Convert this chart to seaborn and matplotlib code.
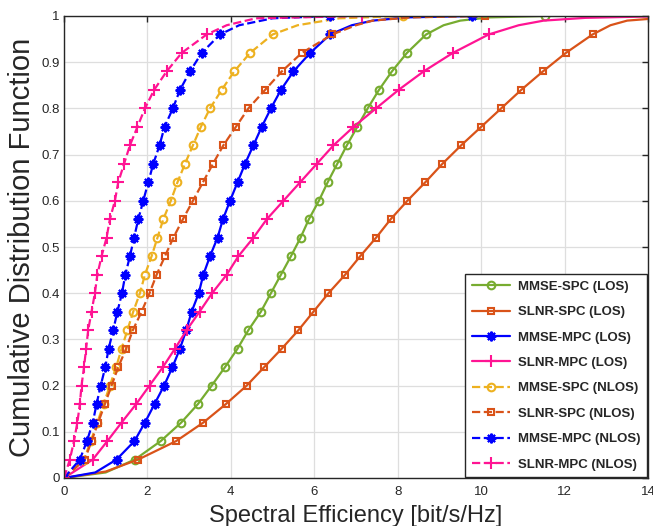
import matplotlib
matplotlib.use("Agg")
import matplotlib.pyplot as plt
import seaborn as sns

# CDF levels at which markers are drawn
cdf_levels = [0, 0.04, 0.08, 0.12, 0.16, 0.20, 0.24, 0.28, 0.32, 0.36, 0.40, 0.44, 0.48,
              0.52, 0.56, 0.60, 0.64, 0.68, 0.72, 0.76, 0.80, 0.84, 0.88, 0.92, 0.96, 1.0]

# spectral efficiency read at each CDF level
mmse_spc_los = [0, 1.70, 2.32, 2.81, 3.21, 3.54, 3.86, 4.16, 4.42, 4.72, 4.96, 5.20, 5.44,
                5.67, 5.87, 6.11, 6.32, 6.55, 6.78, 7.03, 7.28, 7.55, 7.86, 8.22, 8.68, 11.52]
slnr_spc_los = [0, 1.78, 2.69, 3.34, 3.88, 4.38, 4.80, 5.22, 5.62, 5.98, 6.34, 6.74, 7.10,
                7.48, 7.83, 8.23, 8.66, 9.07, 9.52, 10.00, 10.48, 10.96, 11.48, 12.03, 12.67, 15.0]
mmse_mpc_los = [0, 1.26, 1.69, 1.94, 2.17, 2.40, 2.60, 2.78, 2.93, 3.06, 3.23, 3.34, 3.50,
                3.68, 3.81, 3.98, 4.16, 4.34, 4.54, 4.74, 4.96, 5.20, 5.50, 5.90, 6.38, 9.78]
slnr_mpc_los = [0, 0.69, 1.04, 1.38, 1.73, 2.05, 2.37, 2.66, 2.94, 3.25, 3.55, 3.90, 4.18,
                4.54, 4.86, 5.26, 5.66, 6.06, 6.46, 6.94, 7.48, 8.02, 8.62, 9.32, 10.18, 14.5]
mmse_spc_nlos = [0, 0.48, 0.64, 0.80, 0.95, 1.10, 1.25, 1.38, 1.52, 1.66, 1.82, 1.94, 2.10,
                 2.24, 2.38, 2.56, 2.72, 2.90, 3.09, 3.28, 3.50, 3.78, 4.08, 4.46, 5.00, 8.12]
slnr_spc_nlos = [0, 0.50, 0.66, 0.82, 0.98, 1.14, 1.30, 1.49, 1.65, 1.86, 2.05, 2.22, 2.42,
                 2.62, 2.85, 3.09, 3.33, 3.57, 3.82, 4.12, 4.42, 4.82, 5.22, 5.70, 6.43, 10.1]
mmse_mpc_nlos = [0, 0.38, 0.55, 0.69, 0.78, 0.88, 0.99, 1.07, 1.18, 1.28, 1.39, 1.47, 1.58,
                 1.68, 1.78, 1.90, 2.02, 2.14, 2.29, 2.41, 2.61, 2.78, 3.02, 3.30, 3.74, 6.38]
slnr_mpc_nlos = [0, 0.14, 0.24, 0.32, 0.38, 0.42, 0.48, 0.53, 0.58, 0.66, 0.74, 0.80, 0.90,
                 1.02, 1.10, 1.22, 1.30, 1.44, 1.58, 1.76, 1.94, 2.16, 2.46, 2.82, 3.42, 7.14]

# extra curve points (x, y) near the start and in the saturating tail
heads = {
    "MMSE-SPC (LOS)": ([1.0], [0.012]),
    "SLNR-SPC (LOS)": ([1.0], [0.014]),
    "MMSE-MPC (LOS)": ([0.75], [0.012]),
}
tails = {
    "MMSE-SPC (LOS)": ([9.1, 9.5, 10.2], [0.98, 0.99, 0.997]),
    "SLNR-SPC (LOS)": ([13.1, 13.5, 14.2], [0.98, 0.99, 0.995]),
    "MMSE-MPC (LOS)": ([6.9, 7.4, 8.2], [0.98, 0.99, 0.997]),
    "SLNR-MPC (LOS)": ([10.9, 11.5, 12.5], [0.98, 0.99, 0.996]),
    "MMSE-SPC (NLOS)": ([5.6, 6.6], [0.98, 0.995]),
    "SLNR-SPC (NLOS)": ([7.0, 7.4, 8.3], [0.98, 0.99, 0.997]),
    "MMSE-MPC (NLOS)": ([4.2, 5.0], [0.98, 0.995]),
    "SLNR-MPC (NLOS)": ([3.9, 4.6], [0.98, 0.995]),
}

# asterisk marker similar to MATLAB's '*'
star = (8, 2, 0)

series = [
    ("MMSE-SPC (LOS)", mmse_spc_los, "#77AC30", "-", "o", 5.5),
    ("SLNR-SPC (LOS)", slnr_spc_los, "#D95319", "-", "s", 5.0),
    ("MMSE-MPC (LOS)", mmse_mpc_los, "#0000FF", "-", star, 7.0),
    ("SLNR-MPC (LOS)", slnr_mpc_los, "#FF1493", "-", "+", 8.0),
    ("MMSE-SPC (NLOS)", mmse_spc_nlos, "#EDB120", "--", "o", 5.5),
    ("SLNR-SPC (NLOS)", slnr_spc_nlos, "#D95319", "--", "s", 5.0),
    ("MMSE-MPC (NLOS)", mmse_mpc_nlos, "#0000FF", "--", star, 7.0),
    ("SLNR-MPC (NLOS)", slnr_mpc_nlos, "#FF1493", "--", "+", 8.0),
]


def build_curve(name, marks):
    hx, hy = heads.get(name, ([], []))
    tx, ty = tails.get(name, ([], []))
    xs = [marks[0]] + hx + marks[1:-1] + tx + [marks[-1]]
    ys = [cdf_levels[0]] + hy + cdf_levels[1:-1] + ty + [cdf_levels[-1]]
    first = 1 + len(hx)
    idx = [0] + list(range(first, first + len(marks) - 2)) + [len(xs) - 1]
    return xs, ys, idx


sns.set_style("white")
plt.rcParams["font.family"] = ["Liberation Sans", "DejaVu Sans"]

fig = plt.figure(figsize=(6.53, 5.26), dpi=100)
ax = fig.add_axes([64 / 653, 48 / 526, 584 / 653, 462 / 526])

for name, marks, color, ls, mk, ms in series:
    xs, ys, idx = build_curve(name, marks)
    sns.lineplot(x=xs, y=ys, ax=ax, sort=False, estimator=None, label=name,
                 color=color, linestyle=ls, linewidth=1.6, marker=mk, markersize=ms,
                 markevery=idx, markerfacecolor="none", markeredgecolor=color,
                 markeredgewidth=1.5, clip_on=True)

ax.set_xlim(0, 14)
ax.set_ylim(0, 1)
ax.set_xticks([0, 2, 4, 6, 8, 10, 12, 14])
ax.set_yticks([0, 0.1, 0.2, 0.3, 0.4, 0.5, 0.6, 0.7, 0.8, 0.9, 1])
ax.set_yticklabels(["0", "0.1", "0.2", "0.3", "0.4", "0.5", "0.6", "0.7", "0.8", "0.9", "1"])
ax.grid(True, color="#dedede", linewidth=0.9)
ax.tick_params(direction="in", top=True, right=True, length=4, width=1,
               labelsize=9.5, colors="#262626")
ax.tick_params(axis="y", pad=3)
ax.tick_params(axis="x", pad=6)
for sp in ax.spines.values():
    sp.set_color("#262626")
    sp.set_linewidth(1.0)

ax.set_xlabel("Spectral Efficiency [bit/s/Hz]", fontsize=17, labelpad=5)
ax.set_ylabel("Cumulative Distribution Function", fontsize=21, labelpad=4)

leg = ax.legend(loc="lower right", borderaxespad=0.05, fancybox=False, framealpha=1,
                edgecolor="#262626", numpoints=1, handlelength=2.9, handletextpad=0.6,
                labelspacing=1.0, borderpad=0.5, prop={"weight": "bold", "size": 9.5})
leg.get_frame().set_linewidth(1.0)

fig.savefig("out.png", dpi=100)
